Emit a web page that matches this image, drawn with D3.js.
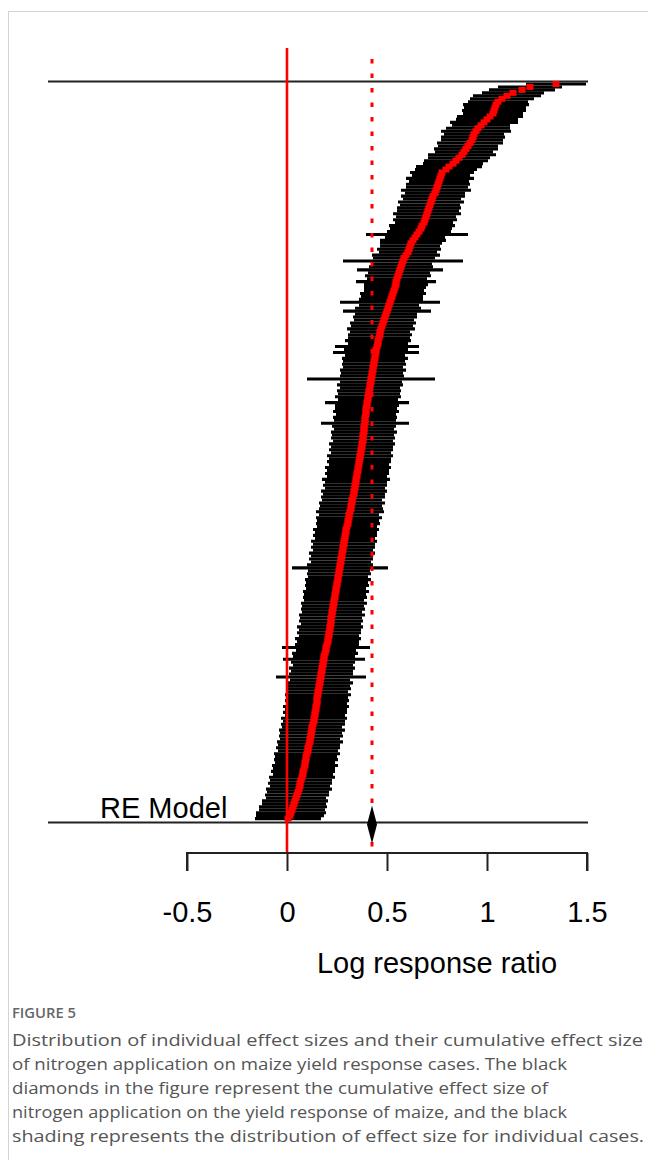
<!DOCTYPE html>
<html>
<head>
<meta charset="utf-8">
<script src="https://cdn.jsdelivr.net/npm/d3@7"></script>
<style>
  html, body { margin: 0; padding: 0; background: #fff; }
  svg { display: block; }
</style>
</head>
<body>
<div id="chart"></div>
<script>
// ---------- DATA ----------
// individual log response ratios (sorted, top row first)
const effectSize = [
  1.345, 1.215, 1.175, 1.13, 1.10, 1.075, 1.055, 1.045, 1.04, 1.035,
  1.03, 1.015, 1.0, 0.985, 0.97, 0.955, 0.945, 0.935, 0.93, 0.925,
  0.915, 0.905, 0.895, 0.885, 0.875, 0.86, 0.845, 0.83, 0.81, 0.795,
  0.775, 0.77, 0.765, 0.76, 0.755, 0.75, 0.745, 0.74, 0.73, 0.725,
  0.72, 0.715, 0.71, 0.705, 0.70, 0.695, 0.69, 0.685, 0.675, 0.67,
  0.66, 0.65, 0.64, 0.63, 0.62, 0.615, 0.61, 0.605, 0.595, 0.585,
  0.58, 0.575, 0.57, 0.565, 0.56, 0.555, 0.55, 0.545, 0.545, 0.54,
  0.535, 0.53, 0.525, 0.52, 0.515, 0.51, 0.505, 0.50, 0.495, 0.49,
  0.485, 0.48, 0.475, 0.47, 0.465, 0.465, 0.46, 0.455, 0.455, 0.45,
  0.445, 0.445, 0.44, 0.44, 0.435, 0.435, 0.43, 0.43, 0.425, 0.425,
  0.42, 0.42, 0.415, 0.415, 0.41, 0.41, 0.405, 0.405, 0.40, 0.40,
  0.395, 0.395, 0.395, 0.39, 0.39, 0.39, 0.385, 0.385, 0.385, 0.38,
  0.38, 0.38, 0.375, 0.375, 0.37, 0.37, 0.365, 0.365, 0.36, 0.36,
  0.355, 0.355, 0.35, 0.35, 0.345, 0.345, 0.34, 0.34, 0.335, 0.335,
  0.33, 0.325, 0.325, 0.32, 0.32, 0.315, 0.31, 0.31, 0.305, 0.305,
  0.30, 0.295, 0.295, 0.29, 0.29, 0.285, 0.285, 0.28, 0.28, 0.275,
  0.275, 0.27, 0.27, 0.265, 0.265, 0.26, 0.26, 0.255, 0.255, 0.25,
  0.25, 0.245, 0.245, 0.24, 0.24, 0.235, 0.235, 0.23, 0.23, 0.225,
  0.225, 0.22, 0.22, 0.22, 0.215, 0.215, 0.21, 0.21, 0.205, 0.205,
  0.20, 0.195, 0.195, 0.19, 0.185, 0.185, 0.18, 0.18, 0.175, 0.175,
  0.17, 0.17, 0.165, 0.165, 0.16, 0.16, 0.155, 0.155, 0.15, 0.15,
  0.15, 0.145, 0.145, 0.14, 0.14, 0.135, 0.135, 0.13, 0.125, 0.125,
  0.12, 0.12, 0.115, 0.115, 0.11, 0.105, 0.105, 0.10, 0.095, 0.095,
  0.09, 0.09, 0.085, 0.08, 0.08, 0.075, 0.07, 0.065, 0.065, 0.06,
  0.055, 0.05, 0.045, 0.04, 0.035, 0.03, 0.025, 0.02, 0.015, 0.005
];
// half-width of each 95% confidence interval
const ciHalfWidth = [
  0.150, 0.160, 0.165, 0.155, 0.170, 0.160, 0.150, 0.165, 0.155, 0.160,
  0.150, 0.165, 0.155, 0.170, 0.145, 0.160, 0.175, 0.150, 0.160, 0.155,
  0.165, 0.150, 0.160, 0.145, 0.170, 0.155, 0.160, 0.150, 0.165, 0.155,
  0.160, 0.145, 0.170, 0.150, 0.160, 0.155, 0.175, 0.150, 0.160, 0.145,
  0.165, 0.150, 0.160, 0.155, 0.170, 0.150, 0.160, 0.145, 0.165, 0.155,
  0.160, 0.255, 0.150, 0.165, 0.155, 0.150, 0.160, 0.145, 0.170, 0.155,
  0.300, 0.150, 0.160, 0.215, 0.155, 0.165, 0.150, 0.200, 0.160, 0.155,
  0.150, 0.165, 0.155, 0.160, 0.250, 0.150, 0.165, 0.220, 0.155, 0.160,
  0.150, 0.165, 0.155, 0.170, 0.150, 0.160, 0.155, 0.165, 0.150, 0.210,
  0.160, 0.215, 0.150, 0.165, 0.155, 0.160, 0.150, 0.165, 0.155, 0.160,
  0.320, 0.155, 0.165, 0.150, 0.160, 0.155, 0.165, 0.150, 0.210, 0.160,
  0.155, 0.165, 0.150, 0.160, 0.155, 0.220, 0.160, 0.150, 0.165, 0.155,
  0.160, 0.150, 0.165, 0.155, 0.160, 0.150, 0.165, 0.155, 0.160, 0.150,
  0.165, 0.155, 0.160, 0.150, 0.170, 0.155, 0.160, 0.150, 0.165, 0.155,
  0.160, 0.150, 0.165, 0.155, 0.160, 0.170, 0.150, 0.165, 0.155, 0.160,
  0.150, 0.165, 0.155, 0.160, 0.150, 0.165, 0.155, 0.160, 0.150, 0.165,
  0.155, 0.160, 0.150, 0.165, 0.240, 0.155, 0.160, 0.150, 0.165, 0.155,
  0.160, 0.150, 0.165, 0.155, 0.160, 0.150, 0.165, 0.155, 0.160, 0.150,
  0.165, 0.155, 0.160, 0.150, 0.165, 0.155, 0.160, 0.150, 0.165, 0.155,
  0.160, 0.220, 0.150, 0.165, 0.155, 0.205, 0.160, 0.150, 0.165, 0.155,
  0.160, 0.225, 0.150, 0.165, 0.155, 0.160, 0.150, 0.165, 0.155, 0.160,
  0.150, 0.165, 0.155, 0.160, 0.150, 0.165, 0.155, 0.160, 0.150, 0.165,
  0.155, 0.160, 0.150, 0.165, 0.155, 0.160, 0.150, 0.165, 0.155, 0.160,
  0.150, 0.165, 0.155, 0.160, 0.150, 0.165, 0.155, 0.160, 0.150, 0.165,
  0.155, 0.160, 0.150, 0.165, 0.160, 0.170, 0.165, 0.175, 0.170, 0.165
];
const pooledEffect = 0.425;
const pooledCI = [0.40, 0.45];
const tickValues = [-0.5, 0, 0.5, 1, 1.5];
const tickLabels = ["-0.5", "0", "0.5", "1", "1.5"];
const modelLabel = "RE Model";
const xAxisTitle = "Log response ratio";
const figureLabel = "FIGURE 5";
const captionLines = [
  "Distribution of individual effect sizes and their cumulative effect size",
  "of nitrogen application on maize yield response cases. The black",
  "diamonds in the figure represent the cumulative effect size of",
  "nitrogen application on the yield response of maize, and the black",
  "shading represents the distribution of effect size for individual cases."
];

// ---------- LAYOUT ----------
const W = 648, H = 1160;
const svg = d3.select("#chart").append("svg").attr("width", W).attr("height", H);
svg.append("rect").attr("width", W).attr("height", H).attr("fill", "#fff");
// card border
svg.append("rect").attr("x", 8.5).attr("y", 11.5).attr("width", 800).attr("height", 1300)
  .attr("fill", "none").attr("stroke", "#d3d3d3").attr("stroke-width", 1);

const x = d3.scaleLinear().domain([-0.5, 1.5]).range([187, 587]);
const N = effectSize.length;
const y = d3.scaleLinear().domain([0, N - 1]).range([84, 818.6]);
const xLeft = -1.195, xRight = 1.505;
const topLineY = 81.5, modelY = 822.5, axisY = 853;

const font = "'Liberation Sans', Arial, sans-serif";

// CI lines
const rows = effectSize.map((v, i) => ({ i, v, lo: v - ciHalfWidth[i], hi: v + ciHalfWidth[i] }));
svg.append("g").selectAll("line").data(rows).join("line")
  .attr("x1", d => x(d.lo)).attr("x2", d => x(d.hi))
  .attr("y1", d => y(d.i)).attr("y2", d => y(d.i))
  .attr("stroke", "#000").attr("stroke-width", 3.1);

// horizontal frame lines
svg.append("line").attr("x1", x(xLeft)).attr("x2", x(xRight)).attr("y1", topLineY).attr("y2", topLineY)
  .attr("stroke", "#222").attr("stroke-width", 2);
svg.append("line").attr("x1", x(xLeft)).attr("x2", x(xRight)).attr("y1", modelY).attr("y2", modelY)
  .attr("stroke", "#222").attr("stroke-width", 2);

// reference lines
svg.append("line").attr("x1", x(0)).attr("x2", x(0)).attr("y1", 48).attr("y2", axisY + 1)
  .attr("stroke", "#f00").attr("stroke-width", 2.6);
svg.append("line").attr("x1", x(pooledEffect)).attr("x2", x(pooledEffect)).attr("y1", 59).attr("y2", axisY)
  .attr("stroke", "#f00").attr("stroke-width", 3).attr("stroke-dasharray", "4.5,10");

// red effect squares
const sqW = 7, sqH = 6;
svg.append("g").selectAll("rect").data(rows).join("rect")
  .attr("x", d => x(d.v) - sqW / 2).attr("y", d => y(d.i) - sqH / 2)
  .attr("width", sqW).attr("height", sqH).attr("fill", "#f00");

// pooled diamond
const dy = 19;
svg.append("path")
  .attr("d", `M${x(pooledCI[0])},${modelY + 2} L${x(pooledEffect)},${modelY + 2 - dy} L${x(pooledCI[1])},${modelY + 2} L${x(pooledEffect)},${modelY + 2 + dy} Z`)
  .attr("fill", "#000");

svg.append("text").attr("x", 100).attr("y", 818).attr("font-family", font).attr("font-size", 29)
  .attr("fill", "#000").text(modelLabel);

// axis
const axis = d3.axisBottom(x).tickValues(tickValues).tickFormat((d, i) => tickLabels[i]).tickSize(18).tickPadding(30);
const gAxis = svg.append("g").attr("transform", `translate(0,${axisY})`).call(axis);
gAxis.select(".domain").attr("stroke", "#222").attr("stroke-width", 2).attr("d", `M${x(-0.5)},18V0H${x(1.5)}V18`);
gAxis.selectAll(".tick line").attr("stroke", "#222").attr("stroke-width", 2);
gAxis.selectAll(".tick text").attr("font-family", font).attr("font-size", 29).attr("fill", "#000");

svg.append("text").attr("x", x(0.75)).attr("y", 973).attr("text-anchor", "middle")
  .attr("font-family", font).attr("font-size", 29).attr("fill", "#000").text(xAxisTitle);

// caption
svg.append("text").attr("x", 12).attr("y", 1018).attr("font-family", "'Open Sans', sans-serif")
  .attr("font-size", 14).attr("font-weight", 600).attr("fill", "#666")
  .attr("textLength", 64).attr("lengthAdjust", "spacingAndGlyphs").text(figureLabel);
const capEnds = [643, 567, 548, 567, 644];
captionLines.forEach((t, i) => {
  svg.append("text").attr("x", 12).attr("y", 1046 + i * 24)
    .attr("font-family", "'Open Sans', sans-serif").attr("font-size", 16).attr("fill", "#555")
    .attr("textLength", capEnds[i] - 12).attr("lengthAdjust", "spacingAndGlyphs")
    .text(t);
});
</script>
</body>
</html>
